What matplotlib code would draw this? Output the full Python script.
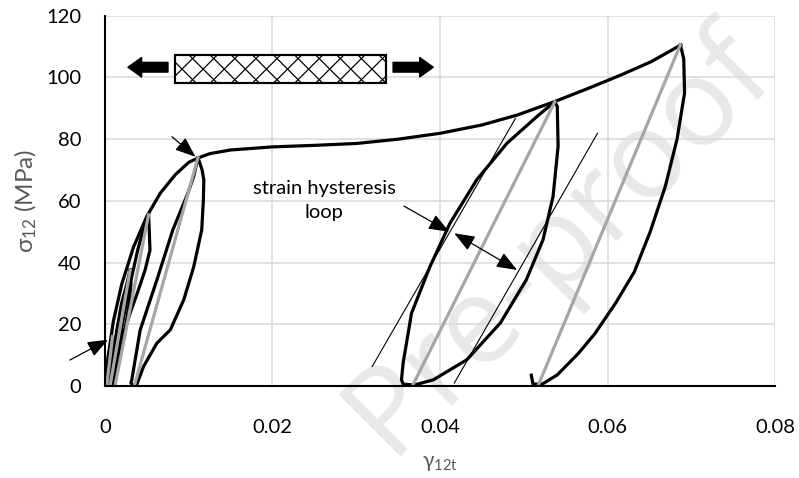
import numpy as np
import matplotlib.pyplot as plt

plt.rcParams['font.family'] = ['Lato', 'DejaVu Sans']
plt.rcParams['mathtext.fontset'] = 'custom'
plt.rcParams['mathtext.rm'] = 'Noto Sans'

# monotonic loading envelope
env_x = [0, 0.0004, 0.001, 0.002, 0.0034, 0.005, 0.0066, 0.0084, 0.0100, 0.0112, 0.0125,
         0.015, 0.020, 0.025, 0.030, 0.035, 0.040, 0.045, 0.0492, 0.0537, 0.058, 0.0616,
         0.0652, 0.0688]
env_y = [0, 10, 21, 33, 45, 55, 62.5, 68.5, 72.5, 74, 75.3,
         76.5, 77.5, 78.0, 78.6, 80.0, 81.9, 84.6, 87.8, 92.2, 96.8, 100.8,
         105.1, 110.6]

# unload / reload loops
loop_a_x = [0.0009, 0.0010, 0.0007, 0.0003, 0.0001, 0.0002, 0.0005, 0.0009]
loop_a_y = [16, 12, 6, 1, 0, 5, 11, 16]
loop_b_x = [0.0030, 0.0031, 0.0028, 0.0022, 0.0014, 0.0008, 0.0006, 0.0009, 0.0014, 0.0020, 0.0026, 0.0030]
loop_b_y = [37.6, 33, 25, 15, 6, 0.5, 0, 8, 18, 27, 33, 37.6]
loop_c_x = [0.0052, 0.0053, 0.00537, 0.0048, 0.0040, 0.0030, 0.0020, 0.0012, 0.0010,
            0.0015, 0.0022, 0.0030, 0.0039, 0.0046, 0.0052]
loop_c_y = [55.5, 49.5, 44, 37.7, 31.2, 23.6, 15, 6.3, 0.4,
            10, 22, 33, 44, 51, 55.5]
loop_d_x = [0.0111, 0.0116, 0.0118, 0.01175, 0.01155, 0.0106, 0.0094, 0.0078, 0.0062,
            0.0046, 0.0038, 0.0033, 0.0031, 0.0032, 0.0042, 0.0062, 0.0081, 0.0099, 0.0106, 0.0111]
loop_d_y = [74, 70, 66.8, 60.4, 50.6, 38.7, 27.9, 18.2, 13.9,
            6.3, 0.5, 0.3, 1, 2, 18.1, 34.4, 50.6, 62.5, 68, 74]
loop_e_x = [0.0537, 0.0540, 0.0541, 0.0535, 0.0523, 0.0503, 0.0472, 0.0432, 0.0392, 0.0369,
            0.0356, 0.0354, 0.0356, 0.0366, 0.0388, 0.0412, 0.0444, 0.0480, 0.0516, 0.0535]
loop_e_y = [92.1, 90.6, 77.7, 61.5, 47.4, 34.4, 20.4, 8.5, 2, 0.3,
            0.6, 2, 7.5, 23.6, 38.7, 52.8, 66.9, 78.7, 87.4, 91.7]
loop_f_x = [0.0687, 0.0691, 0.0692, 0.0683, 0.0669, 0.0651, 0.0632, 0.0610, 0.0585, 0.0565,
            0.0540, 0.0522, 0.0511, 0.0509]
loop_f_y = [110.6, 106, 95, 80, 64.7, 50, 37, 27, 17, 10.5,
            3.6, 0.6, 0.6, 3.5]

# gray secant lines (residual strain -> peak)
sec_x0 = [0.0002, 0.0006, 0.0012, 0.0035, 0.0367, 0.0517]
sec_x1 = [0.0009, 0.0030, 0.0052, 0.0111, 0.0537, 0.0687]
sec_y1 = [16, 37.6, 55.5, 74, 92.1, 110.6]

# thin tangent lines
tan1_x = [0.0319, 0.0490]
tan1_y = [6.3, 86.7]
tan2_x = [0.0417, 0.0588]
tan2_y = [0.9, 81.9]

fig = plt.figure(figsize=(7.99, 4.78), dpi=100)
ax = fig.add_axes([0.1314, 0.1925, 0.8386, 0.7745])
ax.patch.set_alpha(0)

fig.text(0.70, 0.495, 'Pre-proof', fontsize=88, color='#e8e8e8', rotation=45,
         ha='center', va='center', zorder=-5, family='Open Sans')

ax.plot(env_x, env_y, color='black', lw=2.3, solid_capstyle='round', zorder=3)
for lx, ly in [(loop_a_x, loop_a_y), (loop_b_x, loop_b_y), (loop_c_x, loop_c_y),
               (loop_d_x, loop_d_y), (loop_e_x, loop_e_y), (loop_f_x, loop_f_y)]:
    ax.plot(lx, ly, color='black', lw=2.3, solid_joinstyle='round', zorder=3)
for x0, x1, y1 in zip(sec_x0, sec_x1, sec_y1):
    ax.plot([x0, x1], [0, y1], color='#a6a6a6', lw=2.3, zorder=4)
ax.plot(tan1_x, tan1_y, color='black', lw=0.8, zorder=3)
ax.plot(tan2_x, tan2_y, color='black', lw=0.8, zorder=3)

arr = dict(arrowstyle='-|>,head_length=0.9,head_width=0.35', color='black', lw=0.9,
           mutation_scale=14, shrinkA=0, shrinkB=0)
ax.annotate('', xy=(0.0108, 74.3), xytext=(0.0080, 80.8), arrowprops=arr, zorder=5)
ax.annotate('', xy=(0.00036, 15), xytext=(-0.0042, 8.4), arrowprops=arr,
            annotation_clip=False, zorder=5)
ax.annotate('', xy=(0.0411, 50), xytext=(0.0357, 58.3), arrowprops=arr, zorder=5)
ax.annotate('', xy=(0.0492, 37.6), xytext=(0.0417, 49.5),
            arrowprops=dict(arr, arrowstyle='<|-|>,head_length=0.9,head_width=0.35'), zorder=5)
ax.text(0.0262, 60, 'strain hysteresis\nloop', ha='center', va='center', fontsize=14.5,
        linespacing=1.5, zorder=5)

# specimen sketch with pulling arrows
rx, ry, rw, rh = 0.1045, 0.818, 0.3145, 0.076
rect = plt.Rectangle((rx, ry), rw, rh, transform=ax.transAxes,
                     facecolor='white', edgecolor='black', lw=1.5, zorder=5)
ax.add_patch(rect)
sx, sy = 1 / 670.0, 1 / 370.2
hpx = rh / sy
for c in np.arange(-hpx, rw / sx + hpx, 21.1):
    for a, b in [(0, hpx), (hpx, 0)]:
        ln, = ax.plot([rx + c * sx, rx + (c + hpx) * sx], [ry + a * sy, ry + b * sy],
                      transform=ax.transAxes, color='black', lw=0.9, zorder=5.5)
        ln.set_clip_path(rect)
ax.add_patch(plt.Rectangle((rx, ry), rw, rh, transform=ax.transAxes,
                           fill=False, edgecolor='black', lw=1.5, zorder=6))
big = dict(arrowstyle='simple,head_length=0.7,head_width=1.0,tail_width=0.5',
           fc='black', ec='black', mutation_scale=14, shrinkA=0, shrinkB=0)
ax.annotate('', xy=(0.0343, 0.861), xytext=(0.094, 0.861), xycoords='axes fraction',
            arrowprops=big, zorder=5)
ax.annotate('', xy=(0.49, 0.861), xytext=(0.43, 0.861), xycoords='axes fraction',
            arrowprops=big, zorder=5)

ax.set_xlim(0, 0.08)
ax.set_ylim(0, 120)
ax.set_xticks([0, 0.02, 0.04, 0.06, 0.08])
ax.set_xticklabels(['0', '0.02', '0.04', '0.06', '0.08'])
ax.set_yticks(range(0, 121, 20))
ax.tick_params(length=0, labelsize=14.5, colors='black')
ax.tick_params(axis='x', pad=24)
ax.tick_params(axis='y', pad=17)
ax.grid(color='#d9d9d9', lw=1.1)
ax.set_axisbelow(True)
for s in ['top', 'right']:
    ax.spines[s].set_visible(False)
for s in ['left', 'bottom']:
    ax.spines[s].set_linewidth(1.5)
    ax.spines[s].set_zorder(6)

ax.set_ylabel(r'$\mathregular{\sigma_{12}}$ (MPa)', fontsize=17.5, color='#595959', labelpad=5)
ax.set_xlabel(r'$\mathregular{\gamma_{12t}}$', fontsize=15, color='#595959', labelpad=12)

fig.savefig('out.png', dpi=100)
